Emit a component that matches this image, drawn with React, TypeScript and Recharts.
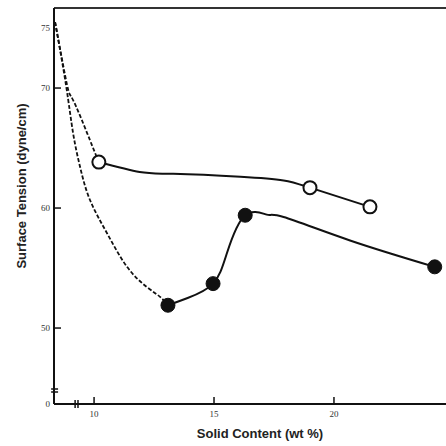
import React from 'react';
import { ComposedChart, Line, Scatter, XAxis, YAxis, ReferenceLine } from 'recharts';

// axis setup (bottom of y is a broken axis shown as "0")
const xMin = 8.33;
const xMax = 24.67;
const yMin = 43.67;
const yMax = 76.67;
const xTicks = [10, 15, 20];
const yTicks = [43.67, 50, 60, 70, 75];
const yTickLabels = ['0', '50', '60', '70', '75'];

// open circles: dashed fitted part, then solid part
const openDashX = [8.375, 8.875, 9.125, 9.71, 10.04, 10.2];
const openDashY = [75.5, 70.25, 69.0, 66.25, 64.6, 63.83];
const openSolidX = [10.2, 11.9, 13.3, 16.1, 17.9, 19.0, 21.5];
const openSolidY = [63.83, 63.0, 62.85, 62.6, 62.3, 61.7, 60.1];
const openPointX = [10.2, 19.0, 21.5];
const openPointY = [63.83, 61.7, 60.1];

// filled circles
const filledDashX = [8.375, 8.83, 9.125, 9.42, 9.83, 10.54, 11.375, 12.21, 12.75, 13.08];
const filledDashY = [75.5, 70.25, 66.25, 63.4, 60.67, 57.9, 55.1, 53.4, 52.6, 51.9];
const filledSolidX = [13.08, 13.9, 14.96, 15.54, 16.3, 17.2, 17.9, 20.67, 24.2];
const filledSolidY = [51.9, 52.5, 53.7, 56.25, 59.4, 59.45, 59.25, 57.3, 55.1];
const filledPointX = [13.08, 14.96, 16.3, 24.2];
const filledPointY = [51.9, 53.7, 59.4, 55.1];

const zip = (xs: number[], ys: number[]) => xs.map((x, i) => ({ x, y: ys[i] }));

const openDash = zip(openDashX, openDashY);
const openSolid = zip(openSolidX, openSolidY);
const openPoints = zip(openPointX, openPointY);
const filledDash = zip(filledDashX, filledDashY);
const filledSolid = zip(filledSolidX, filledSolidY);
const filledPoints = zip(filledPointX, filledPointY);

const ink = '#111';
const tickFont = { fontFamily: '"Liberation Serif", serif', fontSize: 9, fill: '#333' };

function YTick(props: any) {
  const { x, y, payload } = props;
  const i = yTicks.indexOf(payload.value);
  return (
    <g>
      {i > 0 && i < 4 && <line x1={x} x2={x + 7} y1={y} y2={y} stroke={ink} strokeWidth={1.5} />}
      <text x={x - 4} y={y} textAnchor="end" dominantBaseline="central" {...tickFont}>
        {yTickLabels[i]}
      </text>
    </g>
  );
}

function XTick(props: any) {
  const { x, y, payload } = props;
  return (
    <g>
      <line x1={x} x2={x} y1={y} y2={y - 7} stroke={ink} strokeWidth={1.5} />
      <text x={x} y={y + 10} textAnchor="middle" dominantBaseline="central" {...tickFont}>
        {payload.value}
      </text>
    </g>
  );
}

function YTitle() {
  return (
    <text x={21} y={186} transform="rotate(-90 21 186)" textAnchor="middle" dominantBaseline="central"
      fontFamily="Liberation Sans, Arial, sans-serif" fontWeight="bold" fontSize={13} fill="#222">
      Surface  Tension (dyne/cm)
    </text>
  );
}

function XTitle() {
  return (
    <text x={260} y={433} textAnchor="middle" dominantBaseline="central"
      fontFamily="Liberation Sans, Arial, sans-serif" fontWeight="bold" fontSize={13} fill="#222">
      Solid Content (wt %)
    </text>
  );
}

const openDot = (p: any) => (
  <circle cx={p.cx} cy={p.cy} r={6.5} fill="#fff" stroke={ink} strokeWidth={2} />
);
const filledDot = (p: any) => (
  <circle cx={p.cx} cy={p.cy} r={7} fill={ink} stroke={ink} strokeWidth={1} />
);

export default function App() {
  return (
    <div style={{ position: 'absolute', left: 0, top: 0, width: 446, height: 446, background: '#fff' }}>
      <ComposedChart width={446} height={446} margin={{ top: 8, right: 0, bottom: 2, left: 0 }}>
        <XAxis type="number" dataKey="x" domain={[xMin, xMax]} ticks={xTicks} allowDataOverflow
          height={40} tickSize={0} tickMargin={0} tickLine={false} tick={<XTick />}
          axisLine={{ stroke: ink, strokeWidth: 2 }} label={<XTitle />} />
        <YAxis type="number" dataKey="y" domain={[yMin, yMax]} ticks={yTicks} allowDataOverflow interval={0}
          width={54} tickSize={0} tickMargin={0} tickLine={false} tick={<YTick />}
          axisLine={{ stroke: ink, strokeWidth: 2 }} label={<YTitle />} />
        <ReferenceLine y={yMax} stroke="#333" strokeWidth={2} />
        <ReferenceLine segment={[{ x: 8.21, y: 44.92 }, { x: 8.5, y: 44.92 }]} stroke={ink} strokeWidth={1.5} ifOverflow="visible" />
        <ReferenceLine segment={[{ x: 8.21, y: 44.67 }, { x: 8.5, y: 44.67 }]} stroke={ink} strokeWidth={1.5} ifOverflow="visible" />
        <ReferenceLine segment={[{ x: 9.21, y: 43.33 }, { x: 9.21, y: 44.0 }]} stroke={ink} strokeWidth={1.5} ifOverflow="visible" />
        <ReferenceLine segment={[{ x: 9.33, y: 43.33 }, { x: 9.33, y: 44.0 }]} stroke={ink} strokeWidth={1.5} ifOverflow="visible" />
        <Line data={openDash} dataKey="y" type="natural" stroke={ink} strokeWidth={1.8}
          strokeDasharray="4 2" dot={false} isAnimationActive={false} />
        <Line data={filledDash} dataKey="y" type="natural" stroke={ink} strokeWidth={1.8}
          strokeDasharray="4 2" dot={false} isAnimationActive={false} />
        <Line data={openSolid} dataKey="y" type="natural" stroke={ink} strokeWidth={2}
          dot={false} isAnimationActive={false} />
        <Line data={filledSolid} dataKey="y" type="natural" stroke={ink} strokeWidth={2}
          dot={false} isAnimationActive={false} />
        <Scatter data={openPoints} dataKey="y" shape={openDot} isAnimationActive={false} />
        <Scatter data={filledPoints} dataKey="y" shape={filledDot} isAnimationActive={false} />
      </ComposedChart>
    </div>
  );
}
